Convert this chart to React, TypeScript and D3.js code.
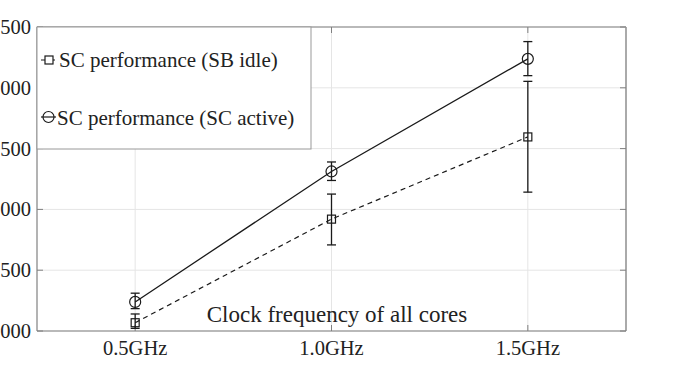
import React from "react";
import * as d3 from "d3";

// clock frequency (GHz) per measurement point
const freqs = [0.5, 1.0, 1.5];
const freqLabels = ["0.5GHz", "1.0GHz", "1.5GHz"];

// SC performance with SB idle (squares, dashed)
const idleMean = [1068, 1920, 2596];
const idleLow = [1022, 1708, 2142];
const idleHigh = [1140, 2126, 3053];

// SC performance with SC active (circles, solid)
const activeMean = [1239, 2312, 3238];
const activeLow = [1184, 2238, 3100];
const activeHigh = [1311, 2390, 3380];

// y ticks; labels are cropped in the source image, only last 3 digits show
const yTicks = [1000, 1500, 2000, 2500, 3000, 3500];
const yTickLabels = ["000", "500", "000", "500", "000", "500"];
const legendLabels = ["SC performance (SB idle)", "SC performance (SC active)"];
const xTitle = "Clock frequency of all cores";

const W = 698, H = 372;
const margin = { top: 27, right: 72, bottom: 41, left: 37 };
const FONT = "Liberation Serif, Times New Roman, serif";

export default function App() {
  const x = d3.scaleLinear().domain([0.25, 1.75]).range([margin.left, W - margin.right]);
  const y = d3.scaleLinear().domain([1000, 3500]).range([H - margin.bottom, margin.top]);

  const line = d3.line<number>().x((_, i) => x(freqs[i])).y((d) => y(d));

  const x0 = x.range()[0], x1 = x.range()[1];
  const y0 = y.range()[0], y1 = y.range()[1];
  const ink = "#1a1a1a";
  const axisCol = "#808080";
  const txt = { fontFamily: FONT, fill: "#222" };

  const errBars = (low: number[], high: number[], key: string) =>
    freqs.map((f, i) => (
      <g key={key + i} stroke={ink} strokeWidth={1.3}>
        <line x1={x(f)} x2={x(f)} y1={y(low[i])} y2={y(high[i])} />
        <line x1={x(f) - 4.5} x2={x(f) + 4.5} y1={y(low[i])} y2={y(low[i])} />
        <line x1={x(f) - 4.5} x2={x(f) + 4.5} y1={y(high[i])} y2={y(high[i])} />
      </g>
    ));

  return (
    <svg width={W} height={H} style={{ position: "absolute", left: 0, top: 0, background: "#fff" }}>
      {/* grid */}
      <g stroke="#e5e5e5" strokeWidth={1}>
        {yTicks.map((t) => <line key={"gy" + t} x1={x0} x2={x1} y1={y(t)} y2={y(t)} />)}
        {freqs.map((f) => <line key={"gx" + f} x1={x(f)} x2={x(f)} y1={y0} y2={y1} />)}
      </g>

      {/* box */}
      <line x1={x0} x2={x1} y1={y1} y2={y1} stroke={axisCol} strokeWidth={1.2} />
      <line x1={x1} x2={x1} y1={y1} y2={y0} stroke="#aaaaaa" strokeWidth={2} />
      <line x1={x0} x2={x1} y1={y0} y2={y0} stroke={axisCol} strokeWidth={1.2} />
      <line x1={x0} x2={x0} y1={y1} y2={y0} stroke={axisCol} strokeWidth={1.2} />

      {/* ticks */}
      <g stroke={axisCol} strokeWidth={1}>
        {yTicks.map((t) => (
          <g key={"ty" + t}>
            <line x1={x0} x2={x0 + 6} y1={y(t)} y2={y(t)} />
            <line x1={x1} x2={x1 - 6} y1={y(t)} y2={y(t)} />
          </g>
        ))}
        {freqs.map((f) => (
          <g key={"tx" + f}>
            <line x1={x(f)} x2={x(f)} y1={y0} y2={y0 - 6} />
            <line x1={x(f)} x2={x(f)} y1={y1} y2={y1 + 6} />
          </g>
        ))}
      </g>

      {/* tick labels */}
      {yTicks.map((t, i) => (
        <text key={"ly" + t} x={31} y={y(t) + 7} textAnchor="end" fontSize={20.5} style={txt}>
          {yTickLabels[i]}
        </text>
      ))}
      {freqs.map((f, i) => (
        <text key={"lx" + f} x={x(f)} y={355} textAnchor="middle" fontSize={20.5} style={txt}>
          {freqLabels[i]}
        </text>
      ))}

      {/* x title inside axes */}
      <text x={337} y={322} fontSize={23} textAnchor="middle" style={txt}>{xTitle}</text>

      {/* series */}
      <path d={line(idleMean) || ""} fill="none" stroke={ink} strokeWidth={1.2} strokeDasharray="5,4" />
      <path d={line(activeMean) || ""} fill="none" stroke={ink} strokeWidth={1.3} />
      {errBars(idleLow, idleHigh, "ei")}
      {errBars(activeLow, activeHigh, "ea")}
      {freqs.map((f, i) => (
        <rect key={"sq" + i} x={x(f) - 4} y={y(idleMean[i]) - 4} width={8} height={8}
          fill="none" stroke={ink} strokeWidth={1.2} />
      ))}
      {freqs.map((f, i) => (
        <circle key={"ci" + i} cx={x(f)} cy={y(activeMean[i])} r={5.5}
          fill="none" stroke={ink} strokeWidth={1.2} />
      ))}

      {/* legend */}
      <rect x={x0} y={y1} width={274} height={122} fill="#fff" stroke="#999" strokeWidth={1} />
      <line x1={41} x2={57} y1={60} y2={60} stroke={ink} strokeWidth={1.2} strokeDasharray="5,4" />
      <rect x={45} y={56} width={8} height={8} fill="#fff" stroke={ink} strokeWidth={1.2} />
      <text x={59} y={67} fontSize={21} style={txt}>{legendLabels[0]}</text>
      <circle cx={48.5} cy={117} r={5.5} fill="#fff" stroke={ink} strokeWidth={1.2} />
      <line x1={41} x2={56} y1={117} y2={117} stroke={ink} strokeWidth={1.2} />
      <text x={57} y={125} fontSize={21} style={txt}>{legendLabels[1]}</text>
    </svg>
  );
}
